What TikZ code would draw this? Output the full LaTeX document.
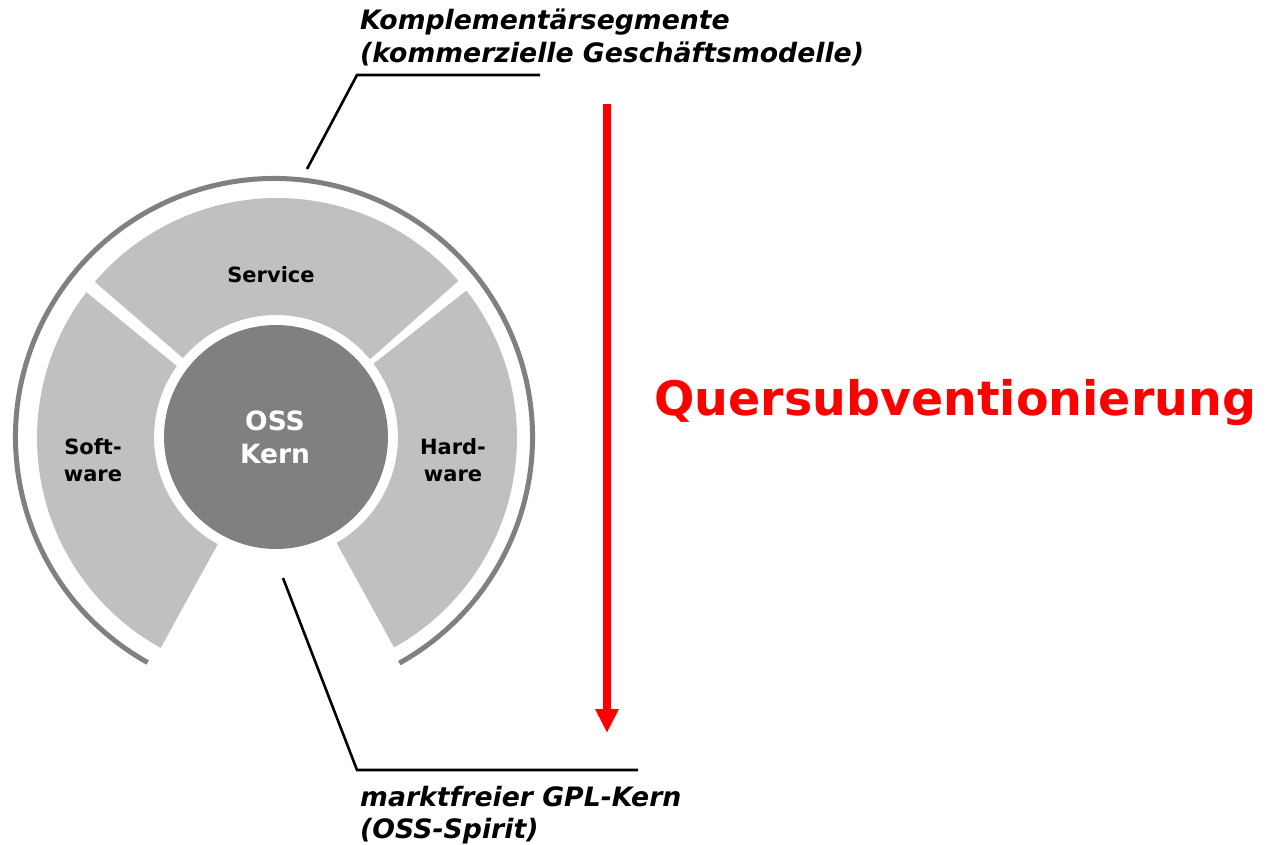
\documentclass[tikz,border=0pt]{standalone}
\usepackage{fontspec}
\setmainfont{DejaVu Sans}
\usetikzlibrary{calc,arrows.meta}
\definecolor{segGrey}{HTML}{C0C0C0}
\definecolor{coreGrey}{HTML}{808080}
\begin{document}
\begin{tikzpicture}[x=1pt,y=1pt,
  seg/.style={fill=segGrey,draw=none},
  leader/.style={draw=black,line width=2.6pt,line cap=butt,line join=miter},
  notes/.style={inner sep=0pt,align=left,anchor=base west,font=\fontsize{26.7}{33}\selectfont\bfseries\itshape},
  seglabel/.style={inner sep=0pt,align=center,font=\fontsize{21}{27}\selectfont\bfseries}]
\useasboundingbox (0,0) rectangle (1268,844);
\coordinate (c) at (277,406);
\coordinate (k) at (276,407);
\coordinate (r) at (274,407);
% outer arc
\draw[coreGrey,line width=5pt] ($(r)+(240.75:258.5)$) arc[start angle=240.75,end angle=-61,radius=258.5pt];
% segments
\path[seg] ($(c)+(139.4:240)$) arc[start angle=139.4,end angle=40.9,radius=240pt] -- ($(k)+(39.6:122)$) arc[start angle=39.6,end angle=139.7,radius=122pt] -- cycle;
\path[seg] ($(c)+(142.6:240)$) arc[start angle=142.6,end angle=241,radius=240pt] -- ($(k)+(241.5:122)$) arc[start angle=241.5,end angle=144.4,radius=122pt] -- cycle;
\path[seg] ($(c)+(37.9:240)$) arc[start angle=37.9,end angle=-60.8,radius=240pt] -- ($(k)+(-60.2:122)$) arc[start angle=-60.2,end angle=36.9,radius=122pt] -- cycle;
% core
\node[circle,fill=coreGrey,draw=none,minimum size=224pt,inner sep=0pt] (core) at (k) {};
\node[inner sep=0pt,align=center,text=white,font=\fontsize{26.5}{33}\selectfont\bfseries] (corelabel) at (275,407) {OSS\\Kern};
\node[seglabel] (service) at (271,569) {Service};
\node[seglabel] (software) at (93,384) {Soft-\\ware};
\node[seglabel] (hardware) at (453,384) {Hard-\\ware};
% notes
\node[notes] (top) at (360,814) {Komplementärsegmente};
\node[notes] (top2) at (360,781.5) {(kommerzielle Geschäftsmodelle)};
\node[notes] (bot) at (360,38) {marktfreier GPL-Kern};
\node[notes] (bot2) at (360,6) {(OSS-Spirit)};
\node[inner sep=0pt,anchor=base west,text=red,font=\fontsize{47.5}{56}\selectfont\bfseries] (quer) at (654,428) {Quersubventionierung};
% leaders
\coordinate (t1) at (307,675);
\coordinate (t2) at (357,769);
\coordinate (t3) at (540,769);
\draw[leader] (t1) -- (t2) -- (t3);
\coordinate (b1) at (283,266);
\coordinate (b2) at (357,74);
\coordinate (b3) at (638,74);
\draw[leader] (b1) -- (b2) -- (b3);
% arrow
\coordinate (a1) at (607,740);
\coordinate (a2) at (607,111);
\draw[red,line width=8pt,-{Triangle[length=24pt,width=22pt]}] (a1) -- (a2);
\end{tikzpicture}
\end{document}
